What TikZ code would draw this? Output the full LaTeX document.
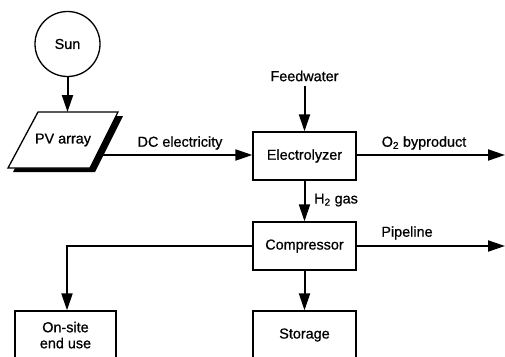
\documentclass[tikz,border=0pt]{standalone}
\usepackage{fontspec}
\setmainfont{Liberation Sans}[FakeBold=0.8]
\usetikzlibrary{arrows.meta}
\begin{document}
\begin{tikzpicture}[x=1pt,y=-1pt,
  lbl/.style={font=\fontsize{14.4}{16}\selectfont, inner sep=0pt},
  box/.style={draw, line width=1.3pt, minimum width=103pt, minimum height=48pt, inner sep=0pt, font=\fontsize{14.4}{17}\selectfont, align=center},
  flow/.style={line width=2pt, -{Triangle[length=17pt,width=11pt]}},
  plain/.style={line width=2pt}]
\clip (0,0) rectangle (505,356);
% Sun
\node[draw, circle, line width=1.3pt, minimum size=65pt, inner sep=0pt, font=\fontsize{14.4}{16}\selectfont] (sun) at (67.5,44) {Sun};
% PV array parallelogram
\coordinate (pvtl) at (38,112);
\coordinate (pvtr) at (118,112);
\coordinate (pvbr) at (90,168);
\coordinate (pvbl) at (8,168);
\fill[black] ([shift={(5,4)}]pvtl) -- ([shift={(5,4)}]pvtr) -- ([shift={(5,4)}]pvbr) -- ([shift={(5,4)}]pvbl) -- cycle;
\draw[fill=white, line width=1.3pt] (pvtl) -- (pvtr) -- (pvbr) -- (pvbl) -- cycle;
\node[lbl] (pv) at (63,140) {PV array};
\coordinate (pvtop) at (67.5,112);
\coordinate (pvout) at (97,155);
% Boxes
\node[box] (ely) at (304.5,156) {Electrolyzer};
\node[box] (cmp) at (304.5,246) {Compressor};
\node[box] (sto) at (304.5,335) {Storage};
\node[box, minimum width=101pt, text depth=0pt] (end) at (65.5,335) {On-site\\[-1pt]end use};
% Labels
\node[lbl] (feed) at (304.5,76) {Feedwater};
\node[lbl] (dc) at (180,143) {DC electricity};
\node[lbl] (o2) at (424,143) {O\textsubscript{2} byproduct};
\node[lbl, anchor=west] (h2) at (314,200) {H\textsubscript{2} gas};
\node[lbl] (pipe) at (407,233) {Pipeline};
\coordinate (o2end) at (505,155);
\coordinate (pipeend) at (505,246);
\coordinate (corner) at (67,246);
% Connectors
\draw[flow] (sun.south) -- (pvtop);
\draw[flow] (pvout) -- (ely.west |- pvout);
\draw[flow] (feed.south) ++(0,5) -- (ely.north);
\draw[flow] (ely.east |- o2end) -- (o2end);
\draw[flow] (ely.south) -- (cmp.north);
\draw[flow] (cmp.east) -- (pipeend);
\draw[flow] (cmp.south) -- (sto.north);
\draw[flow] (cmp.west) -- (corner) -- (corner |- end.north);
\end{tikzpicture}
\end{document}
